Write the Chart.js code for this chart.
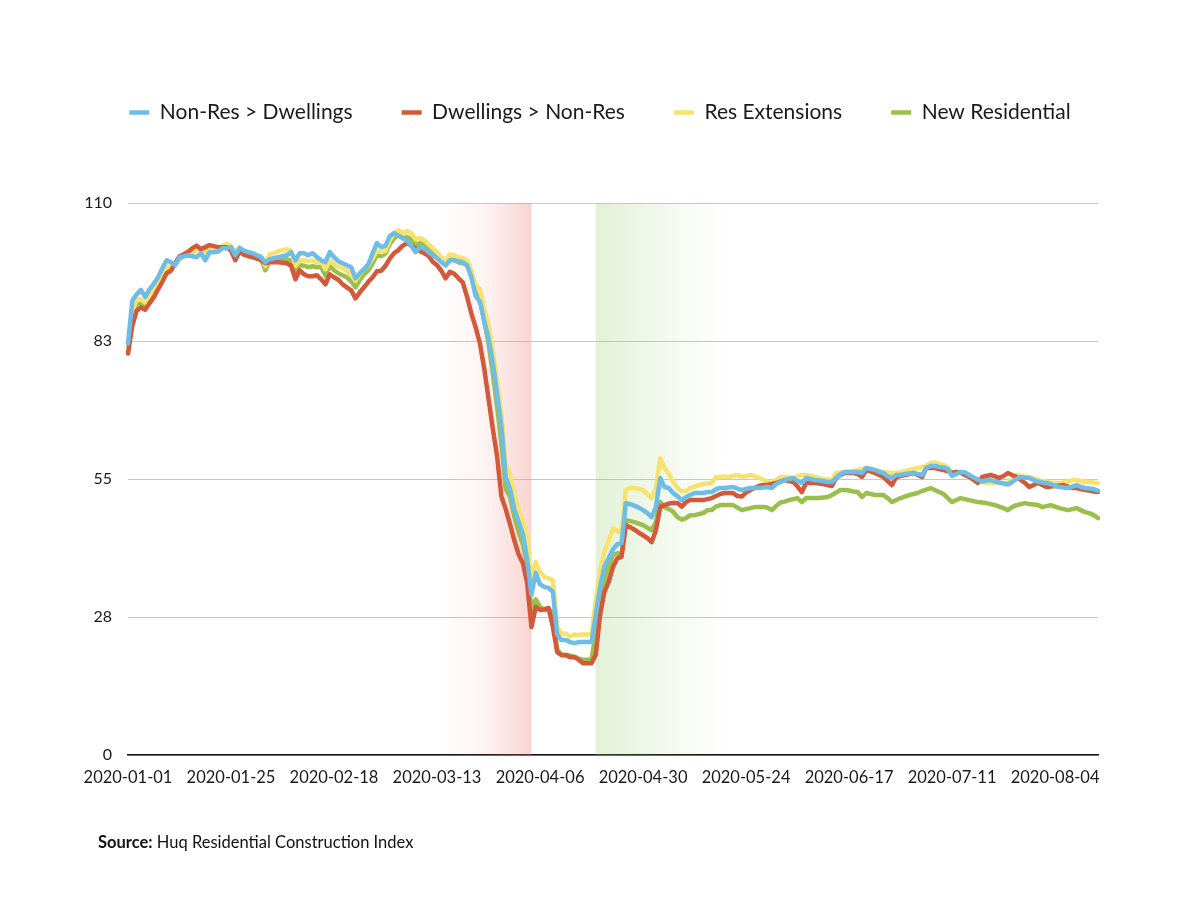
<!DOCTYPE html>
<html>
<head>
<meta charset="utf-8">
<script src="https://cdn.jsdelivr.net/npm/chart.js@4.4.1/dist/chart.umd.min.js"></script>
<style>
  body { margin: 0; background: #fff; }
  #wrap { position: relative; width: 1200px; height: 900px; }
  #source { position: absolute; left: 98px; top: 832px; font: 16.5px Lato, sans-serif; color: #111; }
</style>
</head>
<body>
<div id="wrap">
  <canvas id="chart" width="1200" height="900"></canvas>
  <div id="source"><b>Source:</b> Huq Residential Construction Index</div>
</div>
<script>
// daily index values, 2020-01-01 .. 2020-08-14
const nonResToDwellings = [
  82, 90.5, 91.8, 92.7, 91.3, 92.8, 93.9, 95.2, 97, 98.6,
  98.2, 97.6, 99.2, 99.4, 99.6, 99.4, 99.2, 100, 98.6, 100.2,
  100.2, 100.3, 101, 101, 101.2, 99.6, 101, 100.5, 100.2, 100,
  99.6, 99.2, 98.2, 98.8, 99, 99.2, 99.4, 99.6, 100.2, 98.6,
  100, 100, 99.6, 100, 99.2, 98.6, 98.2, 100.2, 99.2, 98.4,
  98, 97.6, 97.2, 95, 96, 96.8, 97.8, 100, 102, 101.2,
  101.5, 103.4, 104, 103.5, 103, 102.5, 101.5, 100.2, 101.2, 101,
  100.2, 99.6, 99, 98.2, 97.6, 98.6, 98.6, 98.4, 98.2, 97.6,
  95.2, 91.5, 90.3, 86.5, 83, 78.3, 72, 65.5, 55.4, 53,
  49, 46.5, 44, 39, 32, 36.3, 34, 33.5, 33.3, 32.5,
  24, 22.9, 22.9, 22.5, 22.3, 22.5, 22.5, 22.5, 22.5, 28,
  33.5, 37.5, 39.2, 41, 42, 42.2, 50.2, 50, 49.7, 49.3,
  48.8, 48.2, 47.4, 49.4, 55.2, 53.4, 53.2, 52.2, 51.6, 50.8,
  51.4, 51.8, 52.2, 52.2, 52.2, 52.4, 52.4, 53, 53.2, 53.2,
  53.3, 53.4, 53.1, 52.8, 53, 53.2, 53.2, 53.2, 53.3, 53.4,
  53.2, 54, 54.4, 54.8, 55, 55.2, 54.6, 54.2, 55.2, 55,
  54.8, 54.7, 54.6, 54.4, 54.4, 55.2, 56, 56.4, 56.4, 56.4,
  56.4, 56.2, 57.2, 57, 56.8, 56.4, 56.2, 55.5, 55.2, 55.8,
  55.8, 56, 56.1, 56.2, 56, 55.8, 57.2, 57.6, 57.6, 57.4,
  57.3, 57, 55.6, 56, 56.4, 56.3, 55.8, 55.3, 54.9, 54.5,
  54.7, 54.8, 54.5, 54.3, 54.1, 53.9, 54.4, 55, 55.4, 55.3,
  55.2, 54.8, 54.5, 54.3, 54.2, 54, 53.6, 53.4, 53.3, 53.2,
  53.5, 53.8, 53.4, 53.2, 53.1, 53, 52.7
];
const dwellingsToNonRes = [
  80, 85.5, 88.5, 89.2, 88.7, 90, 91.2, 92.8, 94.3, 96,
  96.5, 98, 99.4, 99.8, 100.3, 101, 101.5, 100.8, 101.2, 101.6,
  101.4, 101.2, 101.2, 101.2, 100.5, 98.6, 100.4, 99.7, 99.4, 99.2,
  98.9, 98.6, 98, 98.2, 98.2, 98.2, 98.1, 98, 97.5, 94.8,
  96.6, 95.8, 95.4, 95.4, 95.6, 94.8, 93.8, 95.8, 95.2, 94.7,
  93.8, 93.2, 92.6, 91, 92.2, 93.2, 94.3, 95.2, 96.4, 96.5,
  97.5, 98.9, 100, 100.6, 101.5, 102, 101.5, 101, 100.4, 100,
  99.5, 98.3, 97.6, 96.5, 95, 96.3, 95.9, 95, 94.2, 91.3,
  88, 85.2, 82, 77, 71, 65, 59.5, 51.5, 49, 46,
  42.8, 40, 38.2, 34.3, 25.5, 29.5, 28.9, 29, 29.3, 25.5,
  20.5, 19.9, 19.9, 19.5, 19.5, 19, 18.3, 18.3, 18.3, 20,
  28, 32.5, 34.5, 37.5, 39.2, 39.5, 45.8, 45.4, 44.9, 44.3,
  43.8, 43.2, 42.4, 44.8, 49.4, 49.8, 50.1, 50.2, 50.2, 49.5,
  50.4, 50.8, 50.8, 50.8, 50.8, 51, 51.2, 51.6, 52, 52.2,
  52.2, 52.2, 51.6, 51.5, 52.3, 52.8, 53.2, 53.6, 53.8, 53.8,
  54, 54.2, 54.5, 54.8, 54.6, 54.4, 53.5, 52.4, 54.2, 54.2,
  54.2, 54.1, 54, 53.8, 53.6, 55.2, 55.8, 56.2, 56.2, 56.2,
  56, 55.4, 56.8, 56.5, 56.2, 55.8, 55.4, 54.6, 53.8, 55.4,
  55.6, 55.8, 56, 56.2, 55.8, 55.4, 57.2, 57.2, 57.2, 57,
  56.8, 56.5, 56.2, 56.4, 56.3, 55.8, 55.4, 54.8, 54.2, 55.4,
  55.6, 55.8, 55.5, 55.2, 55.6, 56.2, 55.8, 55.4, 54.8, 54.2,
  53.4, 53.8, 54.2, 53.8, 53.4, 53.5, 53.6, 53.7, 53.8, 53.5,
  53.2, 53.2, 53, 52.8, 52.7, 52.5, 52.4
];
const resExtensions = [
  81, 88.5, 90.7, 90.8, 90.2, 91.5, 92.5, 94, 95.8, 97.2,
  97.4, 97.8, 99, 99.4, 99.6, 100, 100.6, 100.6, 100, 101,
  101.2, 101.1, 101.4, 101.8, 101.4, 100, 101.2, 100.5, 100.2, 100,
  99.6, 99.4, 97.4, 99.8, 100, 100.4, 100.6, 100.8, 100.5, 97.5,
  98.5, 98.6, 98.4, 98.5, 98.2, 98.3, 96.8, 98.5, 97.8, 97.3,
  97, 96.5, 95.8, 94.5, 95.8, 96.8, 97.6, 99, 100.5, 100.2,
  100.5, 102.6, 104, 104.6, 104, 104.4, 104, 102.8, 103, 102.6,
  101.8, 101, 100.2, 99.2, 98.4, 99.8, 99.6, 99.2, 99, 98.6,
  96.5, 93.5, 92.8, 89, 85.5, 80.5, 74.5, 68, 58, 56,
  52, 49, 46.5, 43.5, 34.5, 38.5, 36.5, 35.5, 35.2, 34.8,
  25.5, 24.2, 24.2, 23.6, 24, 23.9, 24, 24, 24.1, 31,
  36.8, 40.5, 42.8, 45.2, 44.6, 44.4, 52.8, 53.2, 53.2, 53,
  52.8, 52, 51.2, 53.2, 59.2, 57.2, 56, 54.5, 53.2, 52.5,
  52.6, 53.2, 53.5, 53.8, 54, 54.1, 54.2, 55.4, 55.4, 55.5,
  55.4, 55.6, 55.8, 55.4, 55.6, 55.8, 55.5, 55.2, 54.9, 54.5,
  54.2, 54.8, 55.4, 55.4, 55.3, 55.2, 55.5, 55.8, 55.8, 55.6,
  55.4, 55.2, 55, 54.9, 54.8, 56.2, 56.3, 56.4, 56.4, 56.6,
  56.8, 57, 57.2, 57, 56.8, 56.6, 56.4, 56.3, 56.2, 56.2,
  56.4, 56.6, 56.8, 57, 57.2, 57.4, 57.6, 58.2, 58.3, 58,
  57.8, 57.2, 56.4, 56.2, 56.4, 56.2, 55.6, 55.2, 54.8, 54.4,
  54.2, 54.2, 54.2, 54.2, 54.2, 54.2, 55, 55.8, 55.6, 55.4,
  55.4, 55.1, 54.8, 54.6, 54.4, 54.3, 54.2, 54.2, 54.3, 54.5,
  54.8, 54.8, 54.6, 54.4, 54.4, 54.3, 54.2
];
const newResidential = [
  80.5, 87, 89.8, 90, 89.6, 90.8, 92, 93.5, 95.2, 96.6,
  97, 97.8, 98.8, 99.4, 99.8, 100.4, 100.8, 100.6, 100.2, 101.2,
  101.2, 101, 101.2, 101.4, 100.8, 99.4, 100.8, 100.2, 99.8, 99.6,
  99.2, 98.8, 96.6, 98.6, 98.8, 98.6, 98.7, 98.8, 98.5, 96.4,
  97.6, 97.5, 97.2, 97.4, 97.2, 97.3, 95.5, 97.5, 96.6, 96,
  95.6, 95.2, 94.4, 93.2, 94.6, 95.8, 96.6, 98, 99.6, 99.4,
  100, 101.8, 103, 103.6, 103, 103.2, 102.8, 101.6, 102, 101.8,
  101, 100.4, 99.6, 98.6, 97.6, 98.8, 98.6, 98.2, 98, 97.6,
  95.5, 92, 91, 86.5, 82, 76, 69.5, 62, 53, 51.5,
  47.5, 44.5, 42, 38, 29, 31, 29.5, 29, 28.8, 28.5,
  21, 20, 20, 19.8, 19.6, 19.2, 19, 19, 19, 24.5,
  31, 34.5, 37.5, 39.9, 40.2, 40, 46.8, 46.6, 46.4, 46.1,
  45.8, 45.3, 44.8, 46.4, 50.4, 49.4, 49, 48.5, 47.4, 46.9,
  47.2, 47.8, 47.8, 48, 48.2, 48.8, 48.8, 49.5, 49.8, 49.8,
  49.8, 49.8, 49.3, 48.8, 49, 49.2, 49.4, 49.4, 49.4, 49.3,
  48.8, 49.6, 50.3, 50.5, 50.8, 51, 51.2, 50.4, 51.2, 51.2,
  51.2, 51.2, 51.3, 51.4, 51.8, 52.3, 52.8, 52.8, 52.7, 52.5,
  52.4, 51.4, 52.2, 52, 51.8, 51.8, 51.8, 51.2, 50.4, 50.8,
  51.2, 51.5, 51.8, 52, 52.2, 52.6, 52.9, 53.2, 52.8, 52.4,
  52, 51.2, 50.4, 50.8, 51.2, 51, 50.8, 50.6, 50.4, 50.3,
  50.2, 50, 49.8, 49.5, 49.2, 48.8, 49.4, 49.8, 50, 50.2,
  50, 49.9, 49.8, 49.4, 49.6, 49.8, 49.5, 49.2, 49, 48.8,
  49, 49.2, 48.8, 48.4, 48.2, 47.8, 47.2
];

const xTickLabels = ['2020-01-01', '2020-01-25', '2020-02-18', '2020-03-13', '2020-04-06',
  '2020-04-30', '2020-05-24', '2020-06-17', '2020-07-11', '2020-08-04'];
const yTickLabels = ['0', '28', '55', '83', '110'];

// shaded periods: [start, end]
const lockdownBand = ['2020-03-13', '2020-04-04'];
const reopenBand = ['2020-04-19', '2020-05-19'];

const start = Date.UTC(2020, 0, 1);
const dates = nonResToDwellings.map((_, i) => new Date(start + i * 864e5).toISOString().slice(0, 10));

const bandPlugin = {
    id: 'bands',
    beforeDatasetsDraw(chart) {
        const { ctx, chartArea: a, scales: { x } } = chart;
        const draw = (band, stops) => {
            const x0 = x.getPixelForValue(dates.indexOf(band[0]));
            const x1 = x.getPixelForValue(dates.indexOf(band[1]));
            const g = ctx.createLinearGradient(x0, 0, x1, 0);
            stops.forEach(s => g.addColorStop(s[0], s[1]));
            ctx.save();
            ctx.fillStyle = g;
            ctx.fillRect(x0, a.top, x1 - x0, a.bottom - a.top);
            ctx.restore();
        };
        draw(lockdownBand, [[0, 'rgba(235,130,120,0)'], [0.5, 'rgba(235,130,120,0.09)'], [1, 'rgba(235,130,120,0.34)']]);
        draw(reopenBand, [[0, 'rgba(150,205,110,0.27)'], [0.6, 'rgba(150,205,110,0.1)'], [1, 'rgba(150,205,110,0)']]);
    }
};

// extra room between legend and plot
const legendGap = {
    id: 'legendGap',
    beforeInit(chart) {
        const fit = chart.legend.fit;
        chart.legend.fit = function () {
            fit.call(this);
            this.height += 70;
        };
    }
};

Chart.defaults.font.family = 'Lato, sans-serif';
Chart.defaults.color = '#1a1a1a';

const ds = (label, data, color) => ({
    label, data,
    borderColor: color, backgroundColor: color,
    borderWidth: 4.5, pointRadius: 0, tension: 0,
    borderJoinStyle: 'round', borderCapStyle: 'round', fill: false
});

new Chart(document.getElementById('chart').getContext('2d'), {
    type: 'line',
    data: {
        labels: dates,
        datasets: [
            ds('Non-Res > Dwellings', nonResToDwellings, '#6dbde6'),
            ds('Dwellings > Non-Res', dwellingsToNonRes, '#d4593a'),
            ds('Res Extensions', resExtensions, '#f6e36e'),
            ds('New Residential', newResidential, '#9bbf4c')
        ]
    },
    options: {
        responsive: false,
        animation: false,
        layout: { padding: { top: 53, left: 0, right: 0, bottom: 105 } },
        plugins: {
            legend: {
                position: 'top',
                labels: {
                    usePointStyle: true, pointStyle: 'line', pointStyleWidth: 20,
                    padding: 49, font: { size: 21 }, color: '#1a1a1a'
                }
            },
            tooltip: { enabled: false }
        },
        scales: {
            x: {
                grid: { display: false },
                border: { display: true, color: '#111', width: 1.5 },
                ticks: {
                    autoSkip: false, maxRotation: 0, minRotation: 0, padding: 5,
                    font: { size: 16.5 }, color: '#1a1a1a',
                    callback: function (v) {
                        const l = this.getLabelForValue(v);
                        return xTickLabels.includes(l) ? l : '';
                    }
                },
                afterFit: s => { s.height = 40; }
            },
            y: {
                min: 0, max: 110,
                grid: { color: '#c8c8c8', lineWidth: 1, drawTicks: false },
                border: { display: false },
                ticks: {
                    stepSize: 27.5, padding: 16, font: { size: 16 }, color: '#1a1a1a',
                    callback: (v, i) => yTickLabels[i]
                },
                afterFit: s => { s.width = 128; }
            },
            yRight: {
                position: 'right',
                grid: { display: false },
                border: { display: false },
                ticks: { display: false },
                afterFit: s => { s.width = 102; }
            }
        }
    },
    plugins: [bandPlugin, legendGap]
});
</script>
</body>
</html>
